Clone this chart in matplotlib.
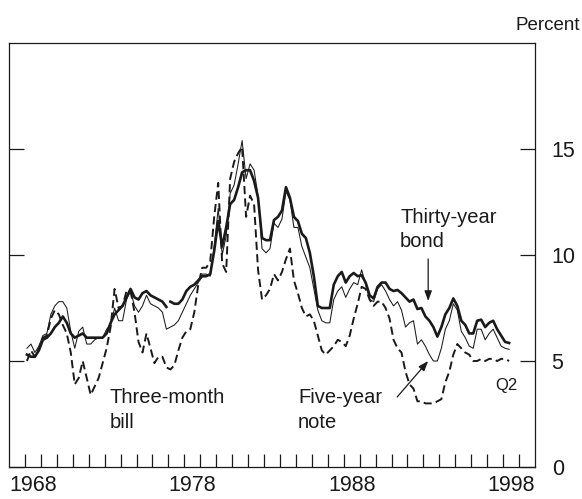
import numpy as np
import pandas as pd
import matplotlib
matplotlib.use("Agg")
import matplotlib.pyplot as plt

plt.rcParams['font.family'] = ['Liberation Sans', 'DejaVu Sans']

# Quarterly data, 1968:Q1 - 1998:Q2 (percent)
quarters = pd.period_range('1968Q1', '1998Q2', freq='Q')

bill = [
    5.0, 5.5, 5.2, 5.6,   6.1, 6.2, 7.0, 7.4,   7.2, 6.7, 6.3, 5.4,
    3.9, 4.2, 5.0, 4.2,   3.4, 3.8, 4.2, 4.9,   5.6, 6.6, 8.4, 7.5,
    7.6, 8.3, 8.3, 7.3,   5.9, 5.4, 6.3, 5.6,   4.9, 5.2, 5.2, 4.7,
    4.6, 4.8, 5.5, 6.1,   6.4, 6.5, 7.3, 8.6,   9.4, 9.4, 9.7, 11.8,
    13.4, 9.6, 9.2, 13.6, 14.4, 14.8, 15.1, 11.8, 12.8, 12.4, 9.3, 7.9,
    8.1, 8.4, 9.1, 8.8,   9.2, 9.8, 10.3, 8.8,  8.2, 7.5, 7.1, 7.2,
    6.9, 6.2, 5.5, 5.3,   5.5, 5.7, 6.0, 5.9,   5.7, 6.2, 7.0, 7.7,
    8.5, 8.4, 7.9, 7.6,   7.8, 7.8, 7.5, 7.0,   6.0, 5.6, 5.4, 4.5,
    3.9, 3.7, 3.1, 3.1,   3.0, 3.0, 3.0, 3.1,   3.2, 4.0, 4.5, 5.3,
    5.8, 5.6, 5.4, 5.3,   5.0, 5.0, 5.1, 5.0,   5.1, 5.1, 5.0, 5.1,
    5.1, 5.0,
]

five_year = [
    5.6, 5.8, 5.4, 5.7,   6.2, 6.3, 7.2, 7.6,   7.8, 7.8, 7.5, 6.4,
    5.6, 6.4, 6.6, 5.8,   5.8, 6.0, 6.1, 6.1,   6.5, 6.7, 7.5, 6.9,
    6.9, 7.9, 8.3, 7.6,   7.3, 7.6, 8.1, 7.7,   7.6, 7.5, 7.3, 6.5,
    6.6, 6.7, 6.9, 7.3,   7.7, 8.1, 8.4, 8.7,   9.1, 9.1, 9.0, 10.4,
    12.2, 10.0, 10.9, 12.9, 13.3, 14.3, 15.4, 13.6, 14.3, 14.0, 12.8, 10.3,
    10.1, 10.3, 11.5, 11.3, 11.7, 13.0, 12.6, 11.3, 11.3, 10.4, 9.9, 9.4,
    8.4, 7.4, 6.9, 6.8,   6.8, 7.9, 8.3, 8.5,   8.0, 8.4, 8.7, 8.6,
    9.3, 8.6, 7.9, 7.8,   8.4, 8.6, 8.3, 7.9,   7.6, 7.8, 7.4, 6.6,
    6.8, 6.9, 5.8, 6.0,   5.7, 5.3, 5.0, 5.0,   5.6, 6.5, 6.9, 7.7,
    7.4, 6.4, 6.1, 5.7,   5.6, 6.5, 6.5, 6.0,   6.3, 6.5, 6.1, 5.7,
    5.6, 5.55,
]

thirty_year = [
    5.3, 5.2, 5.2, 5.5,   6.0, 6.1, 6.3, 6.6,   6.8, 7.1, 6.8, 6.3,
    6.1, 6.2, 6.3, 6.1,   6.1, 6.1, 6.1, 6.1,   6.3, 6.8, 7.2, 7.4,
    7.6, 8.0, 8.4, 8.0,   7.9, 8.2, 8.3, 8.1,   8.0, 7.9, 7.8, 7.55,
    7.8, 7.7, 7.7, 7.9,   8.3, 8.5, 8.6, 8.8,   9.0, 9.0, 9.1, 10.2,
    11.6, 10.4, 11.3, 12.4, 12.6, 13.2, 13.9, 14.0, 14.0, 13.5, 12.7, 10.8,
    10.7, 10.7, 11.65, 11.8, 12.1, 13.2, 12.7, 11.8, 11.6, 11.0, 10.8, 10.1,
    9.0, 7.6, 7.5, 7.5,   7.5, 8.6, 9.0, 9.2,   8.7, 9.0, 9.15, 9.0,
    9.05, 8.7, 8.1, 7.95, 8.5, 8.7, 8.7, 8.4,   8.3, 8.35, 8.2, 8.0,
    7.8, 7.9, 7.45, 7.5,  7.1, 6.9, 6.6, 6.15,  6.6, 7.2, 7.5, 7.95,
    7.6, 6.9, 6.7, 6.3,   6.3, 6.9, 6.95, 6.6,  6.8, 6.9, 6.5, 6.2,
    5.9, 5.85,
]
# series break: earlier long-bond series ends 1976:Q4, 30-year series from 1977:Q1
bond_break = quarters.get_loc(pd.Period('1977Q1', freq='Q'))

year_labels = ['1968', '1978', '1988', '1998']
y_ticks = [0, 5, 10, 15]

x = np.array([q.year + (q.quarter - 0.5) / 4.0 for q in quarters])
bill = np.array(bill)
five_year = np.array(five_year)
thirty_year = np.array(thirty_year)

ink = '#1a1a1a'
fig = plt.figure(figsize=(5.82, 4.99), dpi=100)
ax = fig.add_axes([9/582, 1 - 467/499, (535 - 9)/582, (467 - 43)/499])

ax.plot(x, bill, color=ink, lw=1.4, dashes=(4.2, 2.2))
ax.plot(x, five_year, color=ink, lw=0.75)
ax.plot(x[:bond_break], thirty_year[:bond_break], color=ink, lw=1.9)
ax.plot(x[bond_break:], thirty_year[bond_break:], color=ink, lw=1.9)

ax.set_xlim(1967, 2000)
ax.set_ylim(0, 20)

for s in ax.spines.values():
    s.set_linewidth(0.9)
    s.set_color(ink)

ax.set_yticks(y_ticks)
ax.set_yticklabels([str(v) for v in y_ticks])
ax.tick_params(axis='y', which='major', direction='in', left=True, right=True,
               labelleft=False, labelright=True, length=10.5, width=0.9,
               pad=12, labelsize=15.5, colors=ink)

ax.set_xticks([int(t) + 0.5 for t in year_labels])
ax.set_xticklabels(year_labels)
ax.set_xticks(np.arange(1968, 2000), minor=True)
ax.tick_params(axis='x', which='major', length=0, pad=6, labelsize=15.5, colors=ink)
ax.tick_params(axis='x', which='minor', direction='in', length=9.3, width=0.9,
               color=ink)

def px2data(px, py):
    return 1968 + (px - 25) / 15.93, (467 - py) / 21.2

fs = 14.5
for txt, (px, py) in [('Thirty-year', (400, 223)), ('bond', (400, 247)),
                      ('Three-month', (110, 403)), ('bill', (110, 428)),
                      ('Five-year', (298, 403)), ('note', (298, 428))]:
    ax.text(*px2data(px, py), txt, fontsize=fs, color=ink, ha='left', va='baseline')
ax.text(*px2data(495, 390), 'Q2', fontsize=12, color=ink, ha='left', va='baseline')

arrow = dict(arrowstyle='-|>,head_length=0.6,head_width=0.22', color=ink, lw=0.9,
             shrinkA=0, shrinkB=0)
ax.annotate('', xy=px2data(428, 301), xytext=px2data(428, 259), arrowprops=arrow)
ax.annotate('', xy=px2data(428, 361), xytext=px2data(397, 397), arrowprops=arrow)

fig.text(580/582, 1 - 30/499, 'Percent', fontsize=13.5, color=ink, ha='right', va='baseline')

fig.savefig('out.png', dpi=100)
